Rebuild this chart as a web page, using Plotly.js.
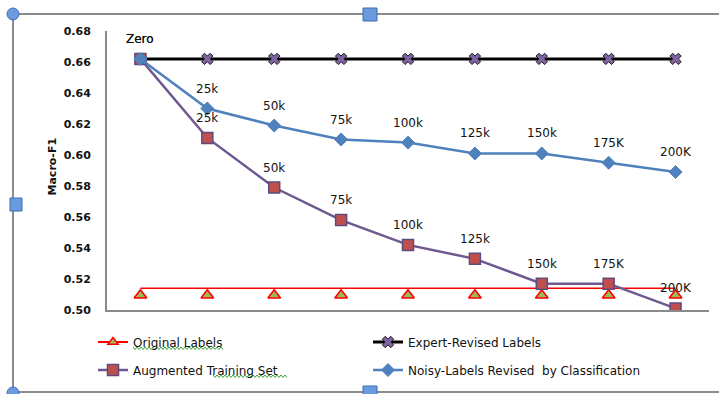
<!DOCTYPE html>
<html>
<head>
<meta charset="utf-8">
<script src="https://cdn.plot.ly/plotly-3.0.1.min.js"></script>
<style>
  html, body { margin: 0; padding: 0; background: #fff; }
  #chart { width: 719px; height: 394px; }
</style>
</head>
<body>
<div id="chart"></div>
<script>
// Training-set sizes along the x axis
const categories = ['Zero', '25k', '50k', '75k', '100k', '125k', '150k', '175K', '200K'];

// Macro-F1 per series
const expertRevised  = [0.662, 0.662, 0.662, 0.662, 0.662, 0.662, 0.662, 0.662, 0.662];
const noisyRevised   = [0.662, 0.630, 0.619, 0.610, 0.608, 0.601, 0.601, 0.595, 0.589];
const augmented      = [0.662, 0.611, 0.579, 0.558, 0.542, 0.533, 0.517, 0.517, 0.501];
const originalLine   = [0.514, 0.514, 0.514, 0.514, 0.514, 0.514, 0.514, 0.514, 0.514];
const originalPoints = [0.5095, 0.5095, 0.5095, 0.5095, 0.5095, 0.5095, 0.5095, 0.5095, 0.5095];

// Data-label text for the two decreasing series
const noisyLabels     = ['Zero', '25k', '50k', '75k', '100k', '125k', '150k', '175K', '200K'];
const augmentedLabels = ['Zero', '25k', '50k', '75k', '100k', '125k', '150k', '175K', '200K'];

const W = 719, H = 394;
const M = { l: 107, r: 10, t: 31, b: 84 };
const PW = W - M.l - M.r, PH = H - M.t - M.b;
const px = x => (x - M.l) / PW;
const py = y => (H - M.b - y) / PH;

const FONT = 'DejaVu Sans, Verdana, sans-serif';
const TXT = { family: FONT, size: 12, color: '#111' };
const TXT_BOLD = { family: FONT, size: 11, color: '#111', weight: 'bold' };
const RED = '#FF0000', OLIVE = '#9BBB59', BLUE = '#4F81BD', PURPLE = '#6E5890', BRICK = '#C0504D';

const traces = [
  // legend entry for the original-labels series
  { x: [null], y: [null], type: 'scatter', mode: 'lines+markers', name: 'Original Labels',
    legend: 'legend', legendgroup: 'orig',
    line: { color: RED, width: 2 },
    marker: { symbol: 'triangle-up', size: 9, color: OLIVE, line: { color: RED, width: 1.5 } } },
  { x: categories, y: originalLine, type: 'scatter', mode: 'lines', showlegend: false,
    legendgroup: 'orig', line: { color: RED, width: 1.6 }, hoverinfo: 'skip' },
  { x: categories, y: originalPoints, type: 'scatter', mode: 'markers', showlegend: false,
    legendgroup: 'orig',
    marker: { symbol: 'triangle-up', size: 11, color: OLIVE, line: { color: RED, width: 1.6 } } },
  { x: categories, y: expertRevised, type: 'scatter', mode: 'lines+markers', name: 'Expert-Revised Labels',
    legend: 'legend',
    line: { color: '#000000', width: 3 },
    marker: { symbol: 'x', size: 10, color: '#8064A2', line: { color: '#1a1a1a', width: 1 } } },
  { x: categories, y: augmented, type: 'scatter', mode: 'lines+markers', name: 'Augmented Training Set',
    legend: 'legend2',
    line: { color: PURPLE, width: 2.5 },
    marker: { symbol: 'square', size: 11, color: BRICK, line: { color: '#5E4A7E', width: 1.5 } } },
  { x: categories, y: noisyRevised, type: 'scatter', mode: 'lines+markers',
    name: 'Noisy-Labels Revised\u00a0 by Classification',
    legend: 'legend2',
    line: { color: BLUE, width: 2.5 },
    marker: { symbol: 'diamond', size: 10, color: BLUE, line: { color: BLUE, width: 1 } } }
];

// data labels sitting above each point
const annotations = [];
categories.forEach((c, i) => {
  annotations.push({ x: c, y: noisyRevised[i], xref: 'x', yref: 'y', text: noisyLabels[i],
    showarrow: false, yshift: 20, font: TXT });
  annotations.push({ x: c, y: augmented[i], xref: 'x', yref: 'y', text: augmentedLabels[i],
    showarrow: false, yshift: 20, font: TXT });
});
annotations.push({ xref: 'paper', yref: 'paper', x: px(43), y: py(167), text: 'Macro-F1',
  textangle: -90, showarrow: false, font: TXT_BOLD });

// chart frame and selection handles
const FRAME = '#8C8C8C';
const shapes = [
  { type: 'line', xref: 'paper', yref: 'paper', x0: px(13), x1: px(719), y0: py(14), y1: py(14), line: { color: FRAME, width: 2 } },
  { type: 'line', xref: 'paper', yref: 'paper', x0: px(13), x1: px(13), y0: py(14), y1: py(392), line: { color: FRAME, width: 2 } },
  { type: 'line', xref: 'paper', yref: 'paper', x0: px(13), x1: px(719), y0: py(392), y1: py(392), line: { color: FRAME, width: 2 } }
];
const HANDLE = { fill: '#6A9BE0', edge: '#3F6DB0' };
function rectHandle(x0, y0, x1, y1) {
  shapes.push({ type: 'rect', xref: 'paper', yref: 'paper', x0: px(x0), x1: px(x1), y0: py(y0), y1: py(y1),
    fillcolor: HANDLE.fill, line: { color: HANDLE.edge, width: 1 } });
}
function circleHandle(cx, cy, r) {
  shapes.push({ type: 'circle', xref: 'paper', yref: 'paper', x0: px(cx - r), x1: px(cx + r), y0: py(cy - r), y1: py(cy + r),
    fillcolor: HANDLE.fill, line: { color: HANDLE.edge, width: 1 } });
}
circleHandle(13, 14, 6);
circleHandle(13, 393, 6);
rectHandle(363, 8, 377, 21);
rectHandle(10, 198, 22, 211);
rectHandle(363, 386, 377, 399);

// spell-check squiggles under legend text
function squiggle(x0, x1, y) {
  let d = '';
  for (let x = x0, k = 0; x <= x1; x += 2, k++) {
    const yy = k % 2 ? y + 1.5 : y - 1;
    d += (k ? ' L ' : 'M ') + px(x).toFixed(5) + ' ' + py(yy).toFixed(5);
  }
  shapes.push({ type: 'path', xref: 'paper', yref: 'paper', path: d, line: { color: '#3DA33D', width: 1 } });
}
squiggle(133, 224, 348);
squiggle(213, 288, 376);

const legendBase = {
  orientation: 'h', xanchor: 'left', yanchor: 'middle',
  entrywidth: 230, entrywidthmode: 'pixels', bgcolor: 'rgba(0,0,0,0)', borderwidth: 0,
  font: TXT, itemwidth: 30, traceorder: 'normal'
};

const layout = {
  width: W, height: H,
  margin: M,
  paper_bgcolor: '#ffffff', plot_bgcolor: '#ffffff',
  showlegend: true,
  xaxis: {
    type: 'category', categoryarray: categories, range: [-0.5, 8.5],
    showticklabels: false, ticks: '', showgrid: false, zeroline: false,
    showline: true, linecolor: '#8A8A8A', linewidth: 2, fixedrange: true
  },
  yaxis: {
    range: [0.50, 0.68], dtick: 0.02, tick0: 0.5, tickformat: '.2f',
    ticks: '', ticklabelstandoff: 12, showgrid: false, zeroline: false,
    showline: true, linecolor: '#8A8A8A', linewidth: 2,
    tickfont: TXT_BOLD, fixedrange: true
  },
  legend: Object.assign({}, legendBase, { x: px(93), y: py(342) }),
  legend2: Object.assign({}, legendBase, { x: px(93), y: py(370) }),
  annotations: annotations,
  shapes: shapes
};

Plotly.newPlot('chart', traces, layout, { displayModeBar: false, staticPlot: true });
</script>
</body>
</html>
